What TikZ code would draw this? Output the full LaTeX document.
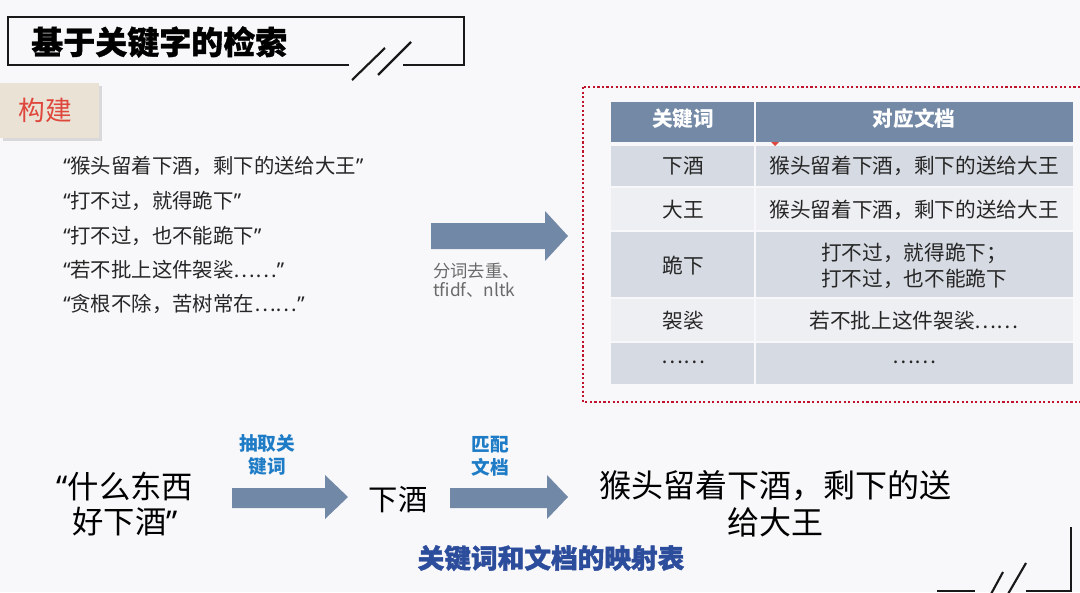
\documentclass[tikz,border=0pt]{standalone}
\usepackage{fontspec}
\setmainfont{Noto Sans CJK SC}
\newfontfamily\latinq{Noto Sans}
\newcommand{\myoq}{{\latinq “}}
\newcommand{\mycq}{{\latinq ”}}
\usetikzlibrary{shadows}
\definecolor{bgc}{HTML}{F8F8FA}
\definecolor{arrowc}{HTML}{7189A7}
\definecolor{headc}{HTML}{7389A6}
\definecolor{rowdark}{HTML}{D6DAE2}
\definecolor{rowlight}{HTML}{EEEFF2}
\definecolor{lblblue}{HTML}{1E7BC6}
\definecolor{capblue}{HTML}{2C4C9C}
\definecolor{dotred}{HTML}{C0142C}
\definecolor{buildfill}{HTML}{E9E2D5}
\definecolor{buildtext}{HTML}{E0473C}
\definecolor{txtc}{HTML}{262626}
\definecolor{greytxt}{HTML}{6A6A6A}
\tikzset{
  frameline/.style={line width=1.6pt, black!90},
  blockarrow/.style={fill=arrowc},
  celldark/.style={fill=rowdark},
  celllight/.style={fill=rowlight},
  celltext/.style={font=\fontsize{15.5}{19}\selectfont, text=txtc, inner sep=0pt},
  headtext/.style={font=\fontsize{15.5}{18}\selectfont\bfseries, text=white, inner sep=0pt},
  srcline/.style={font=\fontsize{15.3}{17}\selectfont, text=txtc, anchor=west, inner sep=0pt},
  steplabel/.style={font=\fontsize{14}{17.5}\selectfont\bfseries, text=lblblue, align=center, inner sep=0pt},
  bigtext/.style={font=\fontsize{22}{27}\selectfont, text=black, align=center, inner sep=0pt},
}
\begin{document}
\begin{tikzpicture}[x=0.75pt,y=-0.75pt]
\useasboundingbox (0,0) rectangle (1080,592);
\fill[bgc] (0,0) rectangle (1080,592);

% title frame
\draw[frameline] (349,65) -- (8,65) -- (8,17) -- (464,17) -- (464,65) -- (403,65);
\draw[frameline] (352,80) -- (385,48);
\draw[frameline] (378,75) -- (411,42);
\node[anchor=west, inner sep=0pt, font=\fontsize{24}{28}\selectfont\bfseries\addfontfeature{FakeBold=1}] (title) at (31,42) {基于关键字的检索};

% bottom right frame corner
\draw[frameline] (937,591) -- (975,591);
\draw[frameline] (1026,591) -- (1071,591) -- (1071,527);
\draw[frameline] (991,594) -- (1003,572);
\draw[frameline] (1008,594) -- (1026,563);

% build tab
\fill[buildfill, drop shadow={shadow xshift=2pt, shadow yshift=-2pt, opacity=0.25}] (0,83) rectangle (99,138);
\node[font=\fontsize{20}{24}\selectfont, text=buildtext, inner sep=0pt] (build) at (45,110) {构建};

% source sentences
\node[srcline] (s1) at (63,166) {\myoq 猴头留着下酒，剩下的送给大王\mycq};
\node[srcline] (s2) at (63,201) {\myoq 打不过，就得跪下\mycq};
\node[srcline] (s3) at (63,236) {\myoq 打不过，也不能跪下\mycq};
\node[srcline] (s4) at (63,270) {\myoq 若不批上这件袈裟……\mycq};
\node[srcline] (s5) at (63,304) {\myoq 贪根不除，苦树常在……\mycq};

% arrow 1
\fill[blockarrow] (431,223) -- (545,223) -- (545,211) -- (568,236) -- (545,261) -- (545,249) -- (431,249) -- cycle;
\node[anchor=north west, align=left, inner sep=0pt, font=\fontsize{13}{14}\selectfont, text=greytxt] (a1lbl) at (433,263) {分词去重、\\tfidf、nltk};

% dotted frame
\draw[dotred, line width=1.9pt, dash pattern=on 1.6pt off 1.8pt] (583,87) rectangle (1090,402);

% table
\fill[headc] (611,102) rectangle (754,142);
\fill[headc] (756,102) rectangle (1073,142);
\fill[celldark] (611,146) rectangle (754,186);
\fill[celldark] (756,146) rectangle (1073,186);
\fill[celllight] (611,188) rectangle (754,230);
\fill[celllight] (756,188) rectangle (1073,230);
\fill[celldark] (611,232) rectangle (754,297);
\fill[celldark] (756,232) rectangle (1073,297);
\fill[celllight] (611,299) rectangle (754,341);
\fill[celllight] (756,299) rectangle (1073,341);
\fill[celldark] (611,343) rectangle (754,384);
\fill[celldark] (756,343) rectangle (1073,384);
\fill[buildtext] (771,142) -- (779,142) -- (775,146) -- cycle;

\node[headtext] (h1) at (683,119) {关键词};
\node[headtext] (h2) at (914,119) {对应文档};
\node[celltext] (k1) at (683,166) {下酒};
\node[celltext] (d1) at (914,166) {猴头留着下酒，剩下的送给大王};
\node[celltext] (k2) at (683,210) {大王};
\node[celltext] (d2) at (914,210) {猴头留着下酒，剩下的送给大王};
\node[celltext] (k3) at (683,266) {跪下};
\node[celltext, align=left, font=\fontsize{15.5}{19.5}\selectfont] (d3) at (914,266) {打不过，就得跪下；\\打不过，也不能跪下};
\node[celltext] (k4) at (683,321) {袈裟};
\node[celltext] (d4) at (914,321) {若不批上这件袈裟……};
\node[celltext] (k5) at (683,362) {……};
\node[celltext] (d5) at (914,362) {……};

% bottom flow
\node[bigtext, font=\fontsize{23.5}{26.5}\selectfont] (query) at (125,504) {\myoq 什么东西\\好下酒\mycq};
\fill[blockarrow] (232,488) -- (325,488) -- (325,475) -- (348,497) -- (325,519) -- (325,508) -- (232,508) -- cycle;
\node[steplabel] (l1) at (267,455) {抽取关\\键词};
\node[bigtext] (kw) at (398,500) {下酒};
\fill[blockarrow] (450,488) -- (547,488) -- (547,475) -- (568,497) -- (547,519) -- (547,508) -- (450,508) -- cycle;
\node[steplabel] (l2) at (490,456) {匹配\\文档};
\node[bigtext, font=\fontsize{24}{28}\selectfont] (res) at (775,504) {猴头留着下酒，剩下的送\\给大王};
\node[font=\fontsize{20}{24}\selectfont\bfseries\addfontfeature{FakeBold=1.5}, text=capblue, inner sep=0pt] (cap) at (551,558) {关键词和文档的映射表};
\end{tikzpicture}
\end{document}
